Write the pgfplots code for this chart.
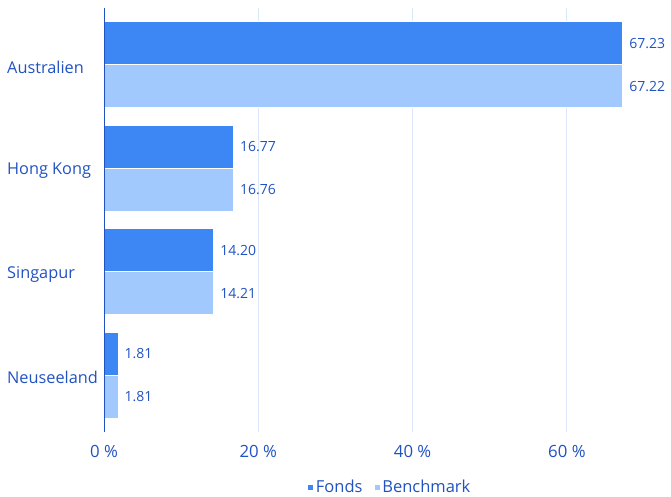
\documentclass[border=0pt]{standalone}
\usepackage{pgfplots}
\pgfplotsset{compat=1.18}
\usepackage{fontspec}
\setmainfont{Open Sans}
\definecolor{fonds}{HTML}{3D87F5}
\definecolor{bench}{HTML}{A1C9FD}
\definecolor{txt}{HTML}{2152C2}
\definecolor{gridc}{HTML}{DCE7FA}
\begin{document}
\begin{tikzpicture}[x=1pt,y=1pt]
\path[use as bounding box] (0,0) rectangle (671,497);
\begin{axis}[
  at={(104pt,65pt)}, anchor=south west,
  scale only axis, width=555.5pt, height=424pt,
  xmin=0, xmax=72, ymin=-0.55, ymax=3.55,
  xbar, bar width=43pt,
  axis line style={draw=none},
  /pgf/number format/assume math mode=true,
  xtick={0,20,40,60},
  xticklabels={0 \%,20 \%,40 \%,60 \%},
  xmajorgrids, grid style={gridc, line width=1pt},
  ytick={0,1,2,3},
  yticklabels={Neuseeland,Singapur,Hong Kong,Australien},
  major tick length=0pt,
  yticklabel style={anchor=west, xshift=-97pt, yshift=-2.5pt, inner sep=0pt, font=\fontsize{16.3}{18}\selectfont, text=txt},
  xticklabel style={font=\fontsize{16.8}{18}\selectfont, text=txt, yshift=-10pt},
  nodes near coords,
  nodes near coords style={font=\fontsize{14}{16}\selectfont, text=txt, anchor=west, xshift=3pt,
    /pgf/number format/.cd, fixed, fixed zerofill, precision=2, assume math mode=true},
  point meta=explicit,
  legend style={at={(0.5,-0.13)}, anchor=center, xshift=8pt, draw=none, legend columns=-1,
    font=\fontsize{16.5}{18}\selectfont, text=txt, inner sep=0pt,
    /tikz/every even column/.append style={column sep=9pt}},
  legend image code/.code={\fill[#1] (0pt,-3pt) rectangle (6pt,3pt);},
  clip=false,
]
\addplot[fill=fonds, draw=white, line width=0.8pt, bar shift=21.5pt] coordinates {
  (67.23,3) [67.23] (16.77,2) [16.77] (14.20,1) [14.20] (1.81,0) [1.81]};
\addplot[fill=bench, draw=white, line width=0.8pt, bar shift=-21.5pt] coordinates {
  (67.22,3) [67.22] (16.76,2) [16.76] (14.21,1) [14.21] (1.81,0) [1.81]};
\legend{Fonds,Benchmark}
\end{axis}
\draw[txt, line width=1pt] (104,65) -- (104,489);
\end{tikzpicture}
\end{document}
